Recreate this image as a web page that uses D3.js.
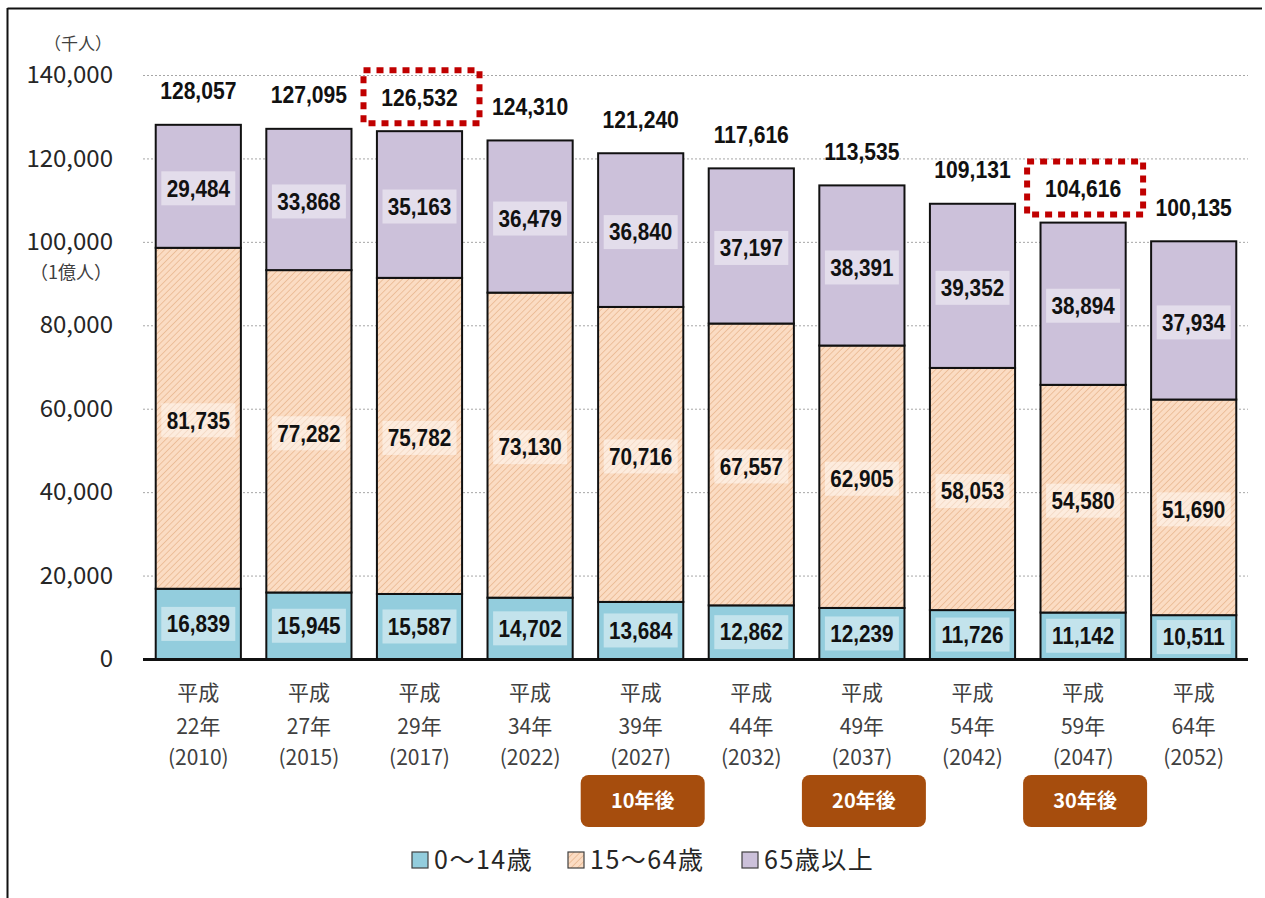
<!DOCTYPE html>
<html><head><meta charset="utf-8">
<script src="https://cdn.jsdelivr.net/npm/d3@7"></script>
<style>
html,body{margin:0;padding:0;background:#fff;}
svg{display:block;}
</style></head>
<body>
<svg id="chart" width="1265" height="898"></svg>
<script>
const eraLabels = ["平成","平成","平成","平成","平成","平成","平成","平成","平成","平成"];
const yearLabels = ["22年","27年","29年","34年","39年","44年","49年","54年","59年","64年"];
const westernYears = ["(2010)","(2015)","(2017)","(2022)","(2027)","(2032)","(2037)","(2042)","(2047)","(2052)"];
const young = [16839,15945,15587,14702,13684,12862,12239,11726,11142,10511];
const working = [81735,77282,75782,73130,70716,67557,62905,58053,54580,51690];
const old = [29484,33868,35163,36479,36840,37197,38391,39352,38894,37934];
const totals = [128057,127095,126532,124310,121240,117616,113535,109131,104616,100135];
const yTicks = [0,20000,40000,60000,80000,100000,120000,140000];
const seriesNames = ["0～14歳","15～64歳","65歳以上"];
const badges = [{idx:4,text:"10年後"},{idx:6,text:"20年後"},{idx:8,text:"30年後"}];
const highlighted = [2,8];

const svg = d3.select("#chart");
const fmt = d3.format(",");
const numFont = "'Liberation Sans Narrow','Arial Narrow','Liberation Sans',sans-serif";
const jpFont = "'Noto Sans CJK JP','Noto Sans',sans-serif";

// border
svg.append("line").attr("x1",7.5).attr("x2",1262).attr("y1",8.5).attr("y2",8.5).attr("stroke","#111").attr("stroke-width",2);
svg.append("line").attr("x1",7.5).attr("x2",7.5).attr("y1",8).attr("y2",898).attr("stroke","#111").attr("stroke-width",2);

const defs = svg.append("defs");
const pat = defs.append("pattern").attr("id","hatch").attr("patternUnits","userSpaceOnUse")
  .attr("width",4.5).attr("height",4.5).attr("patternTransform","rotate(45)");
pat.append("rect").attr("width",4.5).attr("height",4.5).attr("fill","#FBDCC3");
pat.append("line").attr("x1",0).attr("x2",0).attr("y1",0).attr("y2",4.5).attr("stroke","#E4AC80").attr("stroke-width",1.2);

const colors = ["#93CDDD","url(#hatch)","#CCC1DA"];

const idx = d3.range(totals.length);
const x = d3.scaleBand().domain(idx).range([143,1249]).paddingInner(0.23).paddingOuter(0.115);
const y = d3.scaleLinear().domain([0,140000]).range([659,75]);

// grid
svg.append("g").selectAll("line").data(yTicks.filter(d=>d>0)).join("line")
  .attr("x1",143).attr("x2",1248).attr("y1",d=>y(d)+0.5).attr("y2",d=>y(d)+0.5)
  .attr("stroke","#A6A6A6").attr("stroke-width",1).attr("stroke-dasharray","2,2");

// y axis labels
const yAxis = d3.axisLeft(y).tickValues(yTicks).tickFormat(fmt).tickSize(0).tickPadding(0);
const gy = svg.append("g").attr("transform","translate(113,0)").call(yAxis);
gy.select(".domain").remove();
gy.selectAll("text").attr("font-family",jpFont).attr("font-size",24).attr("fill","#262626");
svg.append("text").attr("x",112).attr("y",44).attr("dy","0.36em").attr("text-anchor","end").attr("font-family",jpFont).attr("font-size",17).attr("fill","#404040").text("（千人）");
svg.append("text").attr("x",112).attr("y",273).attr("dy","0.36em").attr("text-anchor","end").attr("font-family",jpFont).attr("font-size",18).attr("fill","#404040").text("（1億人）");

function numLabel(g, cx, cy, txt, size, sx){
  g.append("text").attr("transform",`translate(${cx},${cy}) scale(${sx},1)`)
    .attr("dy","0.36em").attr("text-anchor","middle")
    .attr("font-family",numFont).attr("font-weight","bold").attr("font-size",size).attr("fill","#111")
    .text(txt);
}

// stacks
const rows = idx.map(i=>({i, v:[young[i],working[i],old[i]]}));
const stack = d3.stack().keys([0,1,2]).value((d,k)=>d.v[k]);
const stacked = stack(rows);

const gBars = svg.append("g");
stacked.forEach((layer,k)=>{
  gBars.append("g").selectAll("rect").data(layer).join("rect")
    .attr("x",d=>x(d.data.i)).attr("width",x.bandwidth())
    .attr("y",d=>y(d[1])).attr("height",d=>y(d[0])-y(d[1]))
    .attr("fill",colors[k]).attr("stroke","#111").attr("stroke-width",2);
});

// segment labels
stacked.forEach((layer,k)=>{
  const g = svg.append("g");
  layer.forEach(d=>{
    const cx = x(d.data.i)+x.bandwidth()/2;
    const cy = (y(d[0])+y(d[1]))/2 + (k===0?0:2);
    g.append("rect").attr("x",cx-37).attr("y",cy-17).attr("width",74).attr("height",34)
      .attr("fill","#fff").attr("opacity",0.45);
    numLabel(g, cx, cy, fmt(d.data.v[k]), 23, 0.9);
  });
});

// baseline
svg.append("line").attr("x1",143).attr("x2",1248).attr("y1",y(0)+0.5).attr("y2",y(0)+0.5).attr("stroke","#111").attr("stroke-width",3);

// totals
const gt = svg.append("g");
idx.forEach(i=>numLabel(gt, x(i)+x.bandwidth()/2, y(totals[i])-34, fmt(totals[i]), 24, 0.88));

// highlight boxes
svg.append("g").selectAll("rect").data(highlighted).join("rect")
  .attr("x",i=>x(i)+x.bandwidth()/2-56).attr("y",i=>y(totals[i])-34-27)
  .attr("width",116).attr("height",53)
  .attr("fill","none").attr("stroke","#C00000").attr("stroke-width",6).attr("stroke-dasharray","7,6");

// x labels
const gx = svg.append("g");
idx.forEach(i=>{
  const cx = x(i)+x.bandwidth()/2;
  const t = gx.append("text").attr("text-anchor","middle").attr("font-family",jpFont).attr("font-size",21).attr("fill","#404040");
  t.append("tspan").attr("x",cx).attr("y",700).text(eraLabels[i]);
  t.append("tspan").attr("x",cx).attr("y",734).text(yearLabels[i]);
  t.append("tspan").attr("x",cx).attr("y",765).text(westernYears[i]);
});

// badges
const gb = svg.append("g");
badges.forEach(b=>{
  const cx = x(b.idx)+x.bandwidth()/2+2;
  gb.append("rect").attr("x",cx-62).attr("y",775).attr("width",124).attr("height",52).attr("rx",8)
    .attr("fill","#A64D0D");
  gb.append("text").attr("x",cx).attr("y",801).attr("dy","0.36em").attr("text-anchor","middle")
    .attr("font-family",jpFont).attr("font-weight","bold").attr("font-size",20).attr("fill","#fff").text(b.text);
});

// legend
const legendX = [412,568,742];
const legendColors = ["#93CDDD","url(#hatch)","#CCC1DA"];
const gl = svg.append("g");
seriesNames.forEach((n,k)=>{
  gl.append("rect").attr("x",legendX[k]).attr("y",852).attr("width",16).attr("height",16)
    .attr("fill",legendColors[k]).attr("stroke","#404040").attr("stroke-width",1.2);
  gl.append("text").attr("x",legendX[k]+22).attr("y",860).attr("dy","0.36em")
    .attr("font-family",jpFont).attr("font-size",25).attr("letter-spacing",1.5).attr("fill","#262626").text(n);
});
</script>
</body></html>
